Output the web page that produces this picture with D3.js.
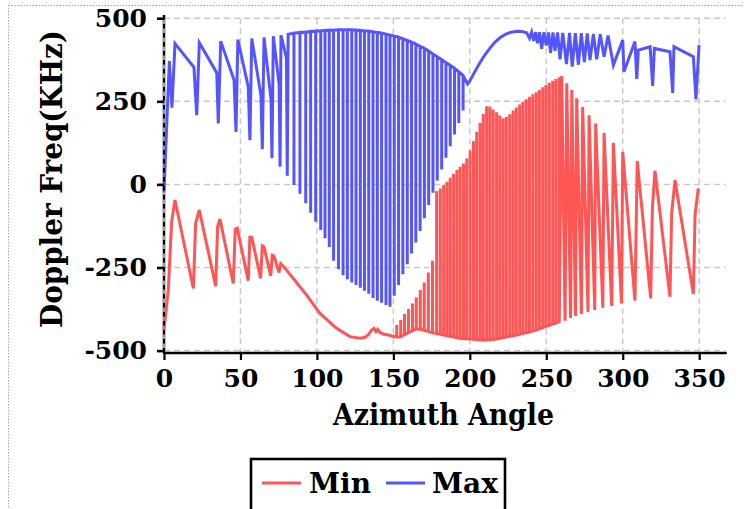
<!DOCTYPE html>
<html><head><meta charset="utf-8">
<script src="https://cdn.jsdelivr.net/npm/d3@7"></script>
<style>
html,body{margin:0;padding:0;background:#fff;overflow:hidden;}
svg{display:block;}
text{font-family:"DejaVu Serif",serif;font-weight:bold;fill:#000;}
</style></head><body>
<svg id="chart" width="744" height="509"></svg>
<script>
// ---------- data ----------
const xTicks = [0, 50, 100, 150, 200, 250, 300, 350];
const yTicks = [-500, -250, 0, 250, 500];
const seriesNames = ["Min", "Max"];
const seriesColors = ["#ff5555", "#5555ff"];

// Max (blue): sparse head vertices
const maxHeadAngle = [0, 3.5, 5.2, 7.2, 19.6, 21.4, 23.1, 34.5, 35.5, 37.1, 45.8, 47.1, 48.3, 55.1, 56.2, 57.4, 63.4, 64.3, 65.4, 70.0, 70.6, 71.5, 75.3, 75.9, 76.5, 80.1, 80.6, 81.2];
const maxHeadValue = [-22, 371, 231, 424, 352, 208, 426, 336, 183, 431, 314, 158, 436, 293, 133, 439, 268, 106, 442, 255, 79, 446, 300, 53, 449, 380, 26, 452];
// Max: dense teeth (envelope top, spike low)
const maxToothAngle = [85.0, 88.9, 92.7, 95.9, 99.2, 102.5, 105.3, 108.1, 110.9, 114.1, 117.1, 119.9, 122.8, 125.6, 128.4, 131.1, 133.9, 136.7, 139.5, 142.3, 145.2, 147.8, 150.6, 153.4, 156.2, 159.1, 161.9, 164.7, 167.5, 170.3, 173.1, 175.9, 178.7, 181.6, 184.4, 187.2, 190.0, 192.8, 195.6];
const maxToothTop = [455, 457, 458, 460, 461, 462, 463, 464, 464, 465, 465, 465, 465, 464, 463, 462, 461, 459, 457, 455, 452, 449, 446, 443, 438, 433, 428, 422, 415, 409, 401, 392, 384, 375, 366, 358, 349, 339, 328];
const maxToothLow = [-2, -28, -57, -85, -112, -137, -162, -188, -230, -255, -273, -285, -295, -303, -311, -320, -329, -342, -350, -356, -363, -368, -335, -303, -270, -240, -208, -175, -140, -102, -62, -25, 12, 45, 80, 115, 150, 185, 222];
// Max: tail vertices
const maxTailAngle = [198.5, 200.1, 203.4, 206.7, 209.9, 213.2, 216.5, 219.7, 223.0, 226.3, 230.7, 234.1, 237.2, 239.0, 240.4, 241.7, 243.0, 244.3, 245.6, 247.0, 248.5, 250.0, 251.5, 252.8, 254.4, 255.7, 257.4, 259.0, 260.8, 263.2, 265.2, 267.0, 269.0, 271.0, 272.9, 274.9, 276.8, 278.6, 280.8, 283.0, 285.3, 287.8, 290.4, 293.9, 300.0, 300.8, 308.0, 309.2, 310.2, 317.9, 319.6, 320.7, 330.9, 332.7, 333.5, 346.2, 347.9, 349.9];
const maxTailValue = [302, 312, 340, 367, 390, 410, 428, 441, 451, 457, 461, 460, 456, 440, 458, 432, 458, 425, 458, 408, 458, 418, 457, 396, 457, 402, 457, 376, 456, 362, 456, 354, 455, 360, 455, 368, 454, 374, 453, 376, 452, 384, 448, 359, 434, 339, 430, 317, 404, 414, 296, 409, 399, 275, 414, 384, 256, 419];

// Min (red): sparse head vertices
const minHeadAngle = [0, 2.8, 5.0, 7.2, 19.2, 20.7, 23.1, 33.8, 35.1, 36.6, 45.3, 46.6, 47.9, 55.1, 56.2, 57.4, 63.2, 64.3, 65.4, 69.8, 70.8, 71.9, 75.2, 76.3, 78.0, 84.6, 93.3, 102.0, 112.9, 121.6, 128.2, 131.5, 133.6, 135.8, 137.3, 138.7, 139.8, 141.3, 143.4, 146.7, 149.5];
const minHeadValue = [-438, -318, -112, -47, -313, -117, -77, -306, -127, -104, -298, -135, -132, -290, -159, -159, -283, -185, -188, -275, -213, -215, -265, -238, -246, -283, -333, -388, -433, -458, -463, -460, -453, -438, -433, -443, -436, -446, -450, -453, -457];
// Min: dense teeth (envelope low, spike top)
const minToothAngle = [152.2, 154.8, 157.3, 159.9, 162.5, 165.0, 167.6, 170.2, 172.9, 175.6, 178.3, 180.7, 182.9, 185.1, 187.2, 189.4, 191.6, 193.7, 195.9, 198.0, 200.2, 202.4, 204.5, 206.7, 208.8, 211.0, 213.1, 215.3, 217.5, 219.6, 221.8, 223.9, 226.1, 228.3, 230.4, 232.6, 234.7, 236.9, 239.0, 241.2, 243.4, 245.5, 247.7, 249.8, 252.0, 254.2, 256.3, 258.5];
const minToothTop = [-423, -408, -390, -375, -358, -340, -318, -295, -265, -230, -20, -12, -2, 8, 20, 32, 43, 53, 63, 78, 102, 130, 158, 185, 212, 235, 234, 225, 217, 207, 199, 203, 211, 222, 231, 240, 249, 256, 264, 271, 277, 284, 292, 299, 306, 312, 317, 322];
const minToothLow = [-459, -458, -452, -446, -440, -435, -436, -439, -442, -446, -449, -451, -453, -455, -457, -459, -461, -463, -464, -464, -465, -466, -467, -467, -468, -468, -467, -466, -465, -463, -461, -459, -457, -455, -453, -451, -448, -446, -444, -441, -438, -434, -431, -427, -424, -420, -417, -413];
// Min: tail vertices
const minTailAngle = [260.1, 262.3, 263.4, 265.9, 266.7, 269.1, 269.9, 273.0, 273.8, 277.3, 278.0, 281.7, 282.3, 287.0, 287.8, 292.8, 293.9, 299.2, 300.0, 308.0, 309.5, 318.3, 319.4, 321.1, 330.9, 332.0, 334.2, 346.2, 347.3, 349.4];
const minTailValue = [326, -410, 304, -402, 284, -396, 259, -390, 233, -384, 208, -378, 183, -371, 155, -366, 125, -358, 98, -350, 70, -343, -70, 41, -338, -87, 13, -330, -92, -12];

// ---------- build series ----------
const pairs = (a, v) => a.map((d, i) => [d, v[i]]);
const minPoints = [].concat(
  pairs(minHeadAngle, minHeadValue),
  minToothAngle.flatMap((a, i) => [[a, minToothLow[i]], [a, minToothTop[i]], [a, minToothLow[i]]]),
  pairs(minTailAngle, minTailValue)
);
const maxPoints = [].concat(
  pairs(maxHeadAngle, maxHeadValue),
  maxToothAngle.flatMap((a, i) => [[a, maxToothTop[i]], [a, maxToothLow[i]], [a, maxToothTop[i]]]),
  pairs(maxTailAngle, maxTailValue)
);
const series = [minPoints, maxPoints];

// ---------- layout ----------
const svg = d3.select("#chart");
const pL = 164, pR = 726.7, pT = 18.2, pB = 350.6, axisY = 353;
const x = d3.scaleLinear().domain([0, 368]).range([pL, pR]);
const y = d3.scaleLinear().domain([-500, 500]).range([pB, pT]);
const fmt = d => String(d);

// outer dotted frame
svg.append("rect").attr("x", 8.5).attr("y", 5.5).attr("width", 800).attr("height", 600)
  .attr("fill", "none").attr("stroke", "#a8a8a8").attr("stroke-width", 1).attr("stroke-dasharray", "1.5,1.5");

// grid
const grid = svg.append("g").attr("stroke", "#c9c9c9").attr("stroke-width", 1.5).attr("stroke-dasharray", "6,4").attr("fill", "none");
grid.selectAll("line.h").data(yTicks).join("line").attr("class", "h")
  .attr("x1", pL).attr("x2", pR - 1).attr("y1", d => y(d)).attr("y2", d => y(d));
grid.selectAll("line.v").data(xTicks.filter(d => d > 0)).join("line").attr("class", "v")
  .attr("x1", d => x(d)).attr("x2", d => x(d)).attr("y1", pT).attr("y2", axisY);

// y axis line (gray with black dashes)
svg.append("line").attr("x1", pL).attr("x2", pL).attr("y1", 15).attr("y2", axisY)
  .attr("stroke", "#9a9a9a").attr("stroke-width", 3.2);

// series
const line = d3.line().x(d => x(d[0])).y(d => y(d[1]));
svg.append("g").selectAll("path").data(series).join("path")
  .attr("d", d => line(d))
  .attr("fill", "none")
  .attr("stroke", (d, i) => seriesColors[i])
  .attr("stroke-width", 3)
  .attr("stroke-linejoin", "miter");

svg.append("line").attr("x1", pL).attr("x2", pL).attr("y1", 15).attr("y2", axisY)
  .attr("stroke", "#000").attr("stroke-width", 2).attr("stroke-dasharray", "4.5,4.5");

// x axis
const xAxis = d3.axisBottom(x).tickValues(xTicks).tickSize(7).tickPadding(9).tickFormat(fmt);
const gx = svg.append("g").attr("transform", `translate(0,${axisY})`).call(xAxis);
gx.select(".domain").remove();
gx.selectAll(".tick line").attr("stroke", "#000").attr("stroke-width", 2.2);
gx.selectAll(".tick text").attr("font-size", 25).attr("font-family", "DejaVu Serif").attr("font-weight", "bold").attr("fill", "#000");
svg.append("line").attr("x1", pL - 1).attr("x2", pR).attr("y1", axisY).attr("y2", axisY)
  .attr("stroke", "#000").attr("stroke-width", 2.6);

// y axis ticks
const yAxis = d3.axisLeft(y).tickValues(yTicks).tickSize(7).tickPadding(10).tickFormat(fmt);
const gy = svg.append("g").attr("transform", `translate(${pL},0)`).call(yAxis);
gy.select(".domain").remove();
gy.selectAll(".tick line").attr("stroke", "#000").attr("stroke-width", 2.6);
gy.selectAll(".tick text").attr("font-size", 25).attr("font-family", "DejaVu Serif").attr("font-weight", "bold").attr("fill", "#000");

// axis titles
svg.append("text").attr("x", 443.5).attr("y", 425).attr("text-anchor", "middle")
  .attr("font-size", 30).attr("textLength", 221).attr("lengthAdjust", "spacingAndGlyphs")
  .text("Azimuth Angle");
svg.append("text").attr("transform", "translate(62,179) rotate(-90)").attr("text-anchor", "middle")
  .attr("font-size", 30).attr("textLength", 298).attr("lengthAdjust", "spacingAndGlyphs")
  .text("Doppler Freq(KHz)");

// legend
const lg = svg.append("g");
lg.append("rect").attr("x", 251).attr("y", 459).attr("width", 254).attr("height", 70)
  .attr("fill", "#fff").attr("stroke", "#000").attr("stroke-width", 2.6);
const legendItems = [
  { name: seriesNames[0], color: seriesColors[0], x1: 262, x2: 301, tx: 309 },
  { name: seriesNames[1], color: seriesColors[1], x1: 386, x2: 425, tx: 432 }
];
legendItems.forEach(it => {
  lg.append("line").attr("x1", it.x1).attr("x2", it.x2).attr("y1", 483).attr("y2", 483)
    .attr("stroke", it.color).attr("stroke-width", 3);
  lg.append("text").attr("x", it.tx).attr("y", 493).attr("font-size", 28).text(it.name);
});
</script>
</body></html>
